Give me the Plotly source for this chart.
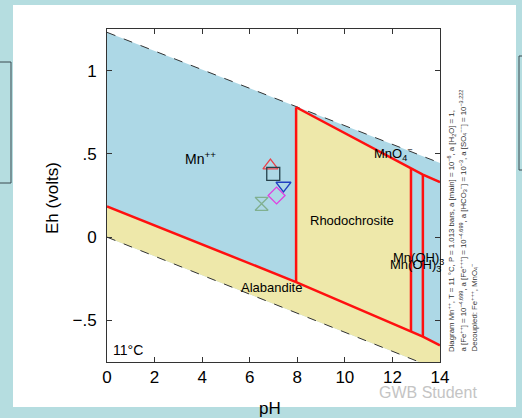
import plotly.graph_objects as go

# ---- data ----
ph_water = [0, 14]
eh_o2 = [1.23, 0.445]          # upper water stability limit
eh_h2 = [0.0, -0.80]           # lower water stability limit

ph_mn_alab = [0, 7.95]
eh_mn_alab = [0.185, -0.27]
ph_rho_alab = [7.95, 12.78, 13.28, 14]
eh_rho_alab = [-0.27, -0.567, -0.598, -0.65]
ph_mn_rho = [7.95, 7.95]
eh_mn_rho = [-0.27, 0.78]
ph_top = [7.95, 12.78, 13.28, 14]
eh_top = [0.78, 0.41, 0.375, 0.33]
ph_v1 = [12.78, 12.78]
eh_v1 = [-0.567, 0.41]
ph_v2 = [13.28, 13.28]
eh_v2 = [-0.598, 0.375]

sample_ph = [6.87, 6.99, 7.42, 7.13, 6.50]
sample_eh = [0.43, 0.38, 0.31, 0.25, 0.20]
sample_sym = ["triangle-up-open", "square-open", "triangle-down-open", "diamond-open", "hourglass-open"]
sample_col = ["#e8424a", "#26404a", "#2040c0", "#e040e0", "#80b090"]

x_ticks = [0, 2, 4, 6, 8, 10, 12, 14]
y_ticks = [-0.5, 0, 0.5, 1]
y_ticktext = ["\u2212.5", "0", ".5", "1"]

BLUE = "#add8e6"
YELLOW = "#eee8aa"
RED = "#ff1010"

fig = go.Figure()

# water stability field (blue)
fig.add_trace(go.Scatter(
    x=ph_water + ph_water[::-1], y=eh_o2 + eh_h2[::-1],
    fill="toself", fillcolor=BLUE, line=dict(width=0), mode="lines",
    hoverinfo="skip", showlegend=False))

# Alabandite (yellow)
alab_x = ph_mn_alab + ph_rho_alab[1:] + ph_water[::-1]
alab_y = eh_mn_alab + eh_rho_alab[1:] + eh_h2[::-1]
fig.add_trace(go.Scatter(x=alab_x, y=alab_y, fill="toself", fillcolor=YELLOW,
                         line=dict(width=0), mode="lines", hoverinfo="skip", showlegend=False))

# Rhodochrosite (yellow)
rho_x = ph_mn_rho + ph_top[1:2] + ph_v1[::-1]
rho_y = eh_mn_rho + eh_top[1:2] + eh_v1[::-1]
fig.add_trace(go.Scatter(x=rho_x, y=rho_y, fill="toself", fillcolor=YELLOW,
                         line=dict(width=0), mode="lines", hoverinfo="skip", showlegend=False))

# water lines (dashed)
for yy in (eh_o2, eh_h2):
    fig.add_trace(go.Scatter(x=ph_water, y=yy, mode="lines",
                             line=dict(color="#333333", width=1, dash="dash"),
                             hoverinfo="skip", showlegend=False))

# red boundaries
for xx, yy in [(ph_mn_alab, eh_mn_alab), (ph_rho_alab, eh_rho_alab), (ph_mn_rho, eh_mn_rho),
               (ph_top, eh_top), (ph_v1, eh_v1), (ph_v2, eh_v2)]:
    fig.add_trace(go.Scatter(x=xx, y=yy, mode="lines", line=dict(color=RED, width=2.5),
                             hoverinfo="skip", showlegend=False))

# sample points
for px, py, s, c in zip(sample_ph, sample_eh, sample_sym, sample_col):
    fig.add_trace(go.Scatter(x=[px], y=[py], mode="markers",
                             marker=dict(symbol=s, size=13, color=c, line=dict(color=c, width=1.3)),
                             hoverinfo="skip", showlegend=False))

# ---- layout ----
L, R, T, B = 107, 82, 29, 56
W, H = 522, 418
pw = W - L - R
ph_ = H - T - B

def px2x(px):
    return (px - L) / pw

def py2y(py):
    return (H - B - py) / ph_

FONT = "Liberation Sans, Arial, sans-serif"

shapes = [
    dict(type="rect", xref="paper", yref="paper", layer="below",
         x0=px2x(13), x1=px2x(516), y0=py2y(407), y1=py2y(5),
         fillcolor="white", line=dict(width=0)),
    dict(type="rect", xref="paper", yref="paper", layer="below",
         x0=px2x(-5), x1=px2x(11), y0=py2y(183), y1=py2y(62),
         fillcolor="rgba(0,0,0,0)", line=dict(color="#3a4a50", width=1)),
    dict(type="rect", xref="paper", yref="paper", layer="below",
         x0=px2x(519), x1=px2x(535), y0=py2y(170), y1=py2y(56),
         fillcolor="rgba(0,0,0,0)", line=dict(color="#3a4a50", width=1)),
]

def ann(x, y, text, size=13, **kw):
    d = dict(x=x, y=y, text=text, showarrow=False, xanchor="center", yanchor="middle",
             font=dict(size=size, color="black", family=FONT))
    d.update(kw)
    return d

annotations = [
    ann(3.95, 0.475, "Mn<sup>++</sup>", 14),
    ann(12.05, 0.50, "MnO<sub>4</sub><sup>\u2212</sup>", 13),
    ann(10.3, 0.10, "Rhodochrosite", 13),
    ann(6.9, -0.30, "Alabandite", 13),
    ann(13.1, -0.13, "Mn(OH)<sub>3</sub>", 13),
    ann(12.95, -0.17, "Mn(OH)<sub>3</sub>", 13),
    ann(14.07, -0.085, "+", 9),
    ann(0.17, -0.675, "11\u00b0C", 14, xanchor="left"),
    ann(px2x(270), py2y(408), "pH", 17, xref="paper", yref="paper"),
    ann(px2x(52), py2y(198), "Eh (volts)", 17, xref="paper", yref="paper", textangle=-90),
    dict(xref="paper", yref="paper", x=px2x(428), y=py2y(392), text="GWB Student", showarrow=False,
         xanchor="center", yanchor="middle", font=dict(size=16, color="#c4c4c4", family=FONT)),
]

side_lines = [
    "Diagram Mn<sup>++</sup>, T = 11 \u00b0C, P = 1.013 bars, a [main] = 10<sup>\u22126</sup>, a [H<sub>2</sub>O] = 1,",
    "a [Fe<sup>++</sup>] = 10<sup>\u22124.699</sup>, a [Fe<sup>+++</sup>] = 10<sup>\u22124.699</sup>, a [HCO<sub>3</sub><sup>\u2212</sup>] = 10<sup>\u22123</sup>, a [SO<sub>4</sub><sup>\u2212\u2212</sup>] = 10<sup>\u22123.222</sup>",
    "Decoupled: Fe<sup>+++</sup>, MnO<sub>4</sub><sup>\u2212</sup>",
]
for txt, pxx in zip(side_lines, [451, 462.5, 473.5]):
    annotations.append(dict(xref="paper", yref="paper", x=px2x(pxx), y=py2y(354), text=txt,
                            showarrow=False, textangle=-90, xanchor="center", yanchor="bottom",
                            font=dict(size=7.8, color="#333333", family=FONT)))

fig.update_layout(
    width=W, height=H, autosize=False,
    margin=dict(l=L, r=R, t=T, b=B, pad=0),
    paper_bgcolor="#b5dde0", plot_bgcolor="white",
    shapes=shapes, annotations=annotations, showlegend=False,
    xaxis=dict(range=[0, 14], tickvals=x_ticks, ticks="inside", ticklen=5, tickcolor="#333",
               showline=True, linecolor="#333", linewidth=1, mirror="ticks", showgrid=False, zeroline=False,
               tickfont=dict(size=17, color="black", family=FONT)),
    yaxis=dict(range=[-0.75, 1.25], tickvals=y_ticks, ticktext=y_ticktext, ticks="inside", ticklen=5,
               tickcolor="#333", showline=True, linecolor="#333", linewidth=1, mirror="ticks",
               showgrid=False, zeroline=False, ticklabelstandoff=6,
               tickfont=dict(size=17, color="black", family=FONT)),
)

fig.write_html("out.html", config={"displayModeBar": False},
               post_script="document.body.style.margin='0';document.body.style.overflow='hidden';")
